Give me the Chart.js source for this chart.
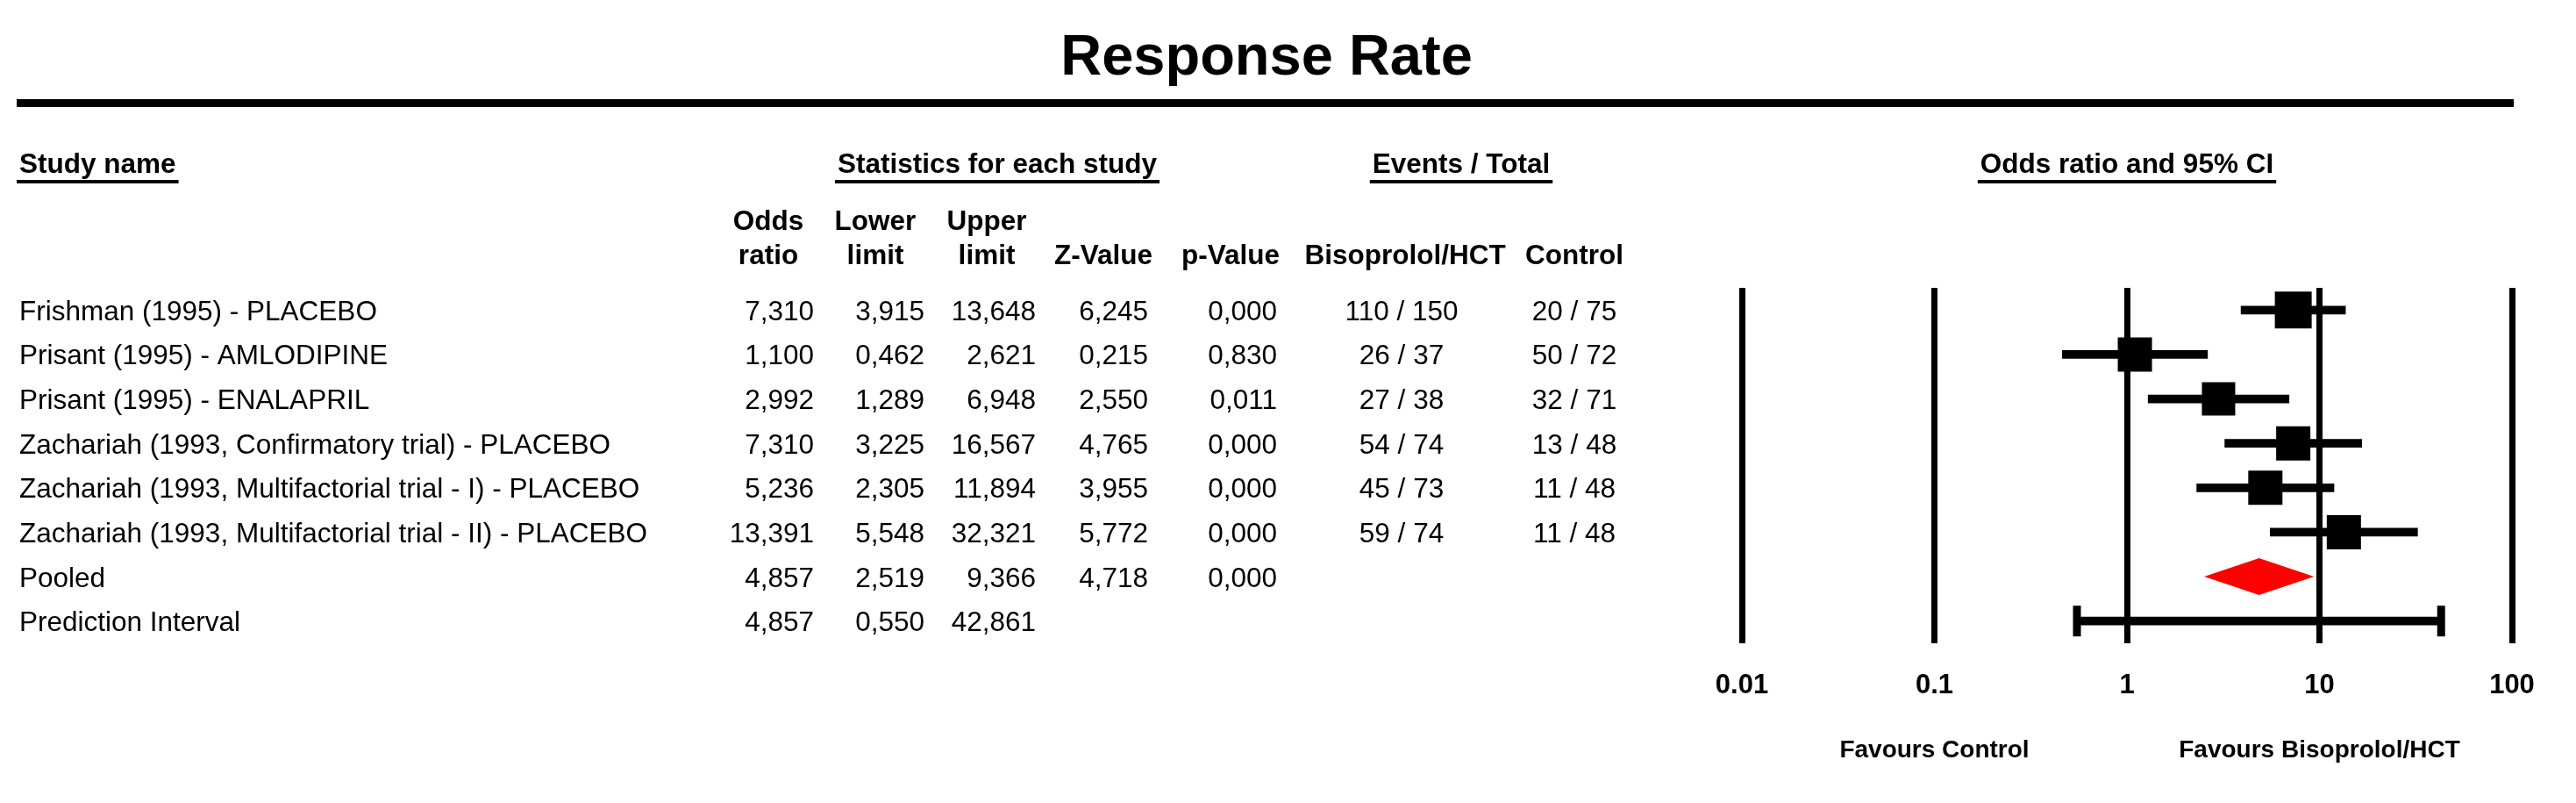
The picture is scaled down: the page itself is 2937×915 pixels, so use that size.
<!DOCTYPE html>
<html>
<head>
<meta charset="utf-8">
<script src="https://cdn.jsdelivr.net/npm/chart.js@4.4.1/dist/chart.umd.min.js"></script>
<style>
  html, body { margin: 0; padding: 0; background: #ffffff; }
  #wrap { width: 2937px; height: 915px; position: relative; }
</style>
</head>
<body>
<div id="wrap"><canvas id="c"></canvas></div>
<script>
// ---------------- DATA ----------------
const chartTitle = 'Response Rate';
const studyNames = [
  'Frishman (1995) - PLACEBO',
  'Prisant (1995) - AMLODIPINE',
  'Prisant (1995) - ENALAPRIL',
  'Zachariah (1993, Confirmatory trial) - PLACEBO',
  'Zachariah (1993, Multifactorial trial - I) - PLACEBO',
  'Zachariah (1993, Multifactorial trial - II) - PLACEBO'
];
const oddsRatio  = [7.310, 1.100, 2.992, 7.310, 5.236, 13.391];
const lowerLimit = [3.915, 0.462, 1.289, 3.225, 2.305, 5.548];
const upperLimit = [13.648, 2.621, 6.948, 16.567, 11.894, 32.321];
const zValue     = [6.245, 0.215, 2.550, 4.765, 3.955, 5.772];
const pValue     = [0.000, 0.830, 0.011, 0.000, 0.000, 0.000];
const eventsTreatment = [110, 26, 27, 54, 45, 59];
const totalTreatment  = [150, 37, 38, 74, 73, 74];
const eventsControl   = [20, 50, 32, 13, 11, 11];
const totalControl    = [75, 72, 71, 48, 48, 48];

const pooledLabel = 'Pooled';
const pooledStats = [4.857, 2.519, 9.366, 4.718, 0.000];      // OR, lower, upper, Z, p
const predictionLabel = 'Prediction Interval';
const predictionStats = [4.857, 0.550, 42.861];              // OR, lower, upper

const axisTicks = [0.01, 0.1, 1, 10, 100];
const axisTickLabels = ['0.01', '0.1', '1', '10', '100'];
const favoursLeft = 'Favours Control';
const favoursRight = 'Favours Bisoprolol/HCT';

const groupHeaders = ['Study name', 'Statistics for each study', 'Events / Total', 'Odds ratio and 95% CI'];
const columnHeadersTop    = ['Odds', 'Lower', 'Upper', '', '', '', ''];
const columnHeadersBottom = ['ratio', 'limit', 'limit', 'Z-Value', 'p-Value', 'Bisoprolol/HCT', 'Control'];

// ---------------- LAYOUT / STYLE ----------------
const FONT = '"Liberation Sans", Arial, Helvetica, sans-serif';
const BODY_SIZE = 31.5;
const POOLED_ROW = studyNames.length;        // 6
const PRED_ROW = studyNames.length + 1;      // 7
const BOX_SIDES = [42, 39, 38, 39, 39, 39];  // marker sizes (px) as seen
const headerCenters = [876, 998, 1125, 1258, 1403, 1602, 1795];
const valueRight = [928, 1054, 1181, 1309, 1456];
const eventsCenter = [1598, 1795];

function fmt(v) { return v.toFixed(3).replace('.', ','); }

function underlined(ctx, text, x, y, align) {
  ctx.textAlign = align;
  ctx.fillText(text, x, y);
  const w = ctx.measureText(text).width;
  let left = align === 'left' ? x : (align === 'center' ? x - w / 2 : x - w);
  ctx.fillRect(left - 3, y + 8, w + 6, 4);
}

const tablePlugin = {
  id: 'forestTable',
  afterDraw(chart) {
    const ctx = chart.ctx;
    const ys = chart.scales.y;
    const xs = chart.scales.x;
    ctx.save();
    ctx.fillStyle = '#000';
    ctx.textBaseline = 'alphabetic';

    // Title + thick rule
    ctx.font = 'bold 65px ' + FONT;
    ctx.textAlign = 'center';
    ctx.fillText(chartTitle, 1444, 85);
    ctx.fillRect(19, 113, 2847, 9);

    // Group headers
    ctx.font = 'bold ' + BODY_SIZE + 'px ' + FONT;
    underlined(ctx, groupHeaders[0], 22, 197, 'left');
    underlined(ctx, groupHeaders[1], 1137, 197, 'center');
    underlined(ctx, groupHeaders[2], 1666, 197, 'center');
    underlined(ctx, groupHeaders[3], xs.getPixelForValue(1), 197, 'center');

    // Column headers
    ctx.textAlign = 'center';
    for (let i = 0; i < headerCenters.length; i++) {
      if (columnHeadersTop[i]) ctx.fillText(columnHeadersTop[i], headerCenters[i], 262);
      ctx.fillText(columnHeadersBottom[i], headerCenters[i], 301);
    }

    // Rows
    ctx.font = BODY_SIZE + 'px ' + FONT;
    const off = 11.5;
    for (let i = 0; i < studyNames.length; i++) {
      const y = ys.getPixelForValue(i) + off;
      ctx.textAlign = 'left';
      ctx.fillText(studyNames[i], 22, y);
      ctx.textAlign = 'right';
      const vals = [oddsRatio[i], lowerLimit[i], upperLimit[i], zValue[i], pValue[i]];
      vals.forEach((v, k) => ctx.fillText(fmt(v), valueRight[k], y));
      ctx.textAlign = 'center';
      ctx.fillText(eventsTreatment[i] + ' / ' + totalTreatment[i], eventsCenter[0], y);
      ctx.fillText(eventsControl[i] + ' / ' + totalControl[i], eventsCenter[1], y);
    }
    let y = ys.getPixelForValue(POOLED_ROW) + off;
    ctx.textAlign = 'left';
    ctx.fillText(pooledLabel, 22, y);
    ctx.textAlign = 'right';
    pooledStats.forEach((v, k) => ctx.fillText(fmt(v), valueRight[k], y));
    y = ys.getPixelForValue(PRED_ROW) + off;
    ctx.textAlign = 'left';
    ctx.fillText(predictionLabel, 22, y);
    ctx.textAlign = 'right';
    predictionStats.forEach((v, k) => ctx.fillText(fmt(v), valueRight[k], y));

    // Favours labels
    ctx.font = 'bold 28px ' + FONT;
    ctx.textAlign = 'center';
    ctx.fillText(favoursLeft, xs.getPixelForValue(0.1), 863);
    ctx.fillText(favoursRight, xs.getPixelForValue(10), 863);
    ctx.restore();
  }
};

const diamondPlugin = {
  id: 'pooledDiamond',
  afterDatasetsDraw(chart) {
    const ctx = chart.ctx;
    const xs = chart.scales.x, ys = chart.scales.y;
    const yc = ys.getPixelForValue(POOLED_ROW);
    const half = 21;
    const xl = xs.getPixelForValue(pooledStats[1]);
    const xm = xs.getPixelForValue(pooledStats[0]);
    const xr = xs.getPixelForValue(pooledStats[2]);
    ctx.save();
    ctx.fillStyle = '#ff0000';
    ctx.beginPath();
    ctx.moveTo(xl, yc);
    ctx.lineTo(xm, yc - half);
    ctx.lineTo(xr, yc);
    ctx.lineTo(xm, yc + half);
    ctx.closePath();
    ctx.fill();
    ctx.restore();
  }
};

// ---------------- DATASETS ----------------
const ciData = studyNames.map((_, i) => ({ x: [lowerLimit[i], upperLimit[i]], y: i }));
ciData.push({ x: [predictionStats[1], predictionStats[2]], y: PRED_ROW });

const boxData = oddsRatio.map((v, i) => ({ x: v, y: i }));
const capData = [{ x: predictionStats[1], y: PRED_ROW }, { x: predictionStats[2], y: PRED_ROW }];

new Chart(document.getElementById('c'), {
  type: 'bar',
  data: {
    datasets: [
      {
        type: 'bar',
        indexAxis: 'y',
        data: ciData,
        backgroundColor: '#000',
        borderWidth: 0,
        barThickness: 9,
        grouped: false,
        order: 2
      },
      {
        type: 'scatter',
        data: boxData,
        pointStyle: 'rect',
        pointRadius: BOX_SIDES.map(s => s / Math.SQRT2),
        pointHoverRadius: BOX_SIDES.map(s => s / Math.SQRT2),
        backgroundColor: '#000',
        borderWidth: 0,
        order: 1
      },
      {
        type: 'scatter',
        data: capData,
        pointStyle: 'line',
        rotation: 90,
        pointRadius: 17.5,
        pointHoverRadius: 17.5,
        borderColor: '#000',
        borderWidth: 9,
        order: 1
      }
    ]
  },
  options: {
    responsive: true,
    maintainAspectRatio: false,
    animation: false,
    devicePixelRatio: 1,
    layout: { padding: { left: 1986, right: 73, top: 328, bottom: 0 } },
    plugins: { legend: { display: false }, tooltip: { enabled: false }, title: { display: false } },
    events: [],
    scales: {
      x: {
        type: 'logarithmic',
        position: 'bottom',
        offset: false,
        min: 0.01,
        max: 100,
        afterBuildTicks: (scale) => { scale.ticks = axisTicks.map(v => ({ value: v })); },
        afterFit: (scale) => { scale.height = 182; },
        ticks: {
          autoSkip: false,
          maxRotation: 0,
          minRotation: 0,
          padding: 30,
          color: '#000',
          font: { family: FONT, size: 31, weight: 'bold' },
          callback: (value, index) => axisTickLabels[index]
        },
        grid: { color: '#000', lineWidth: 7, drawTicks: false, drawOnChartArea: true, offset: false },
        border: { display: false }
      },
      y: {
        type: 'linear',
        display: false,
        reverse: true,
        offset: false,
        grid: { offset: false },
        min: -0.5,
        max: PRED_ROW + 0.5
      }
    }
  },
  plugins: [diamondPlugin, tablePlugin]
});
</script>
</body>
</html>
